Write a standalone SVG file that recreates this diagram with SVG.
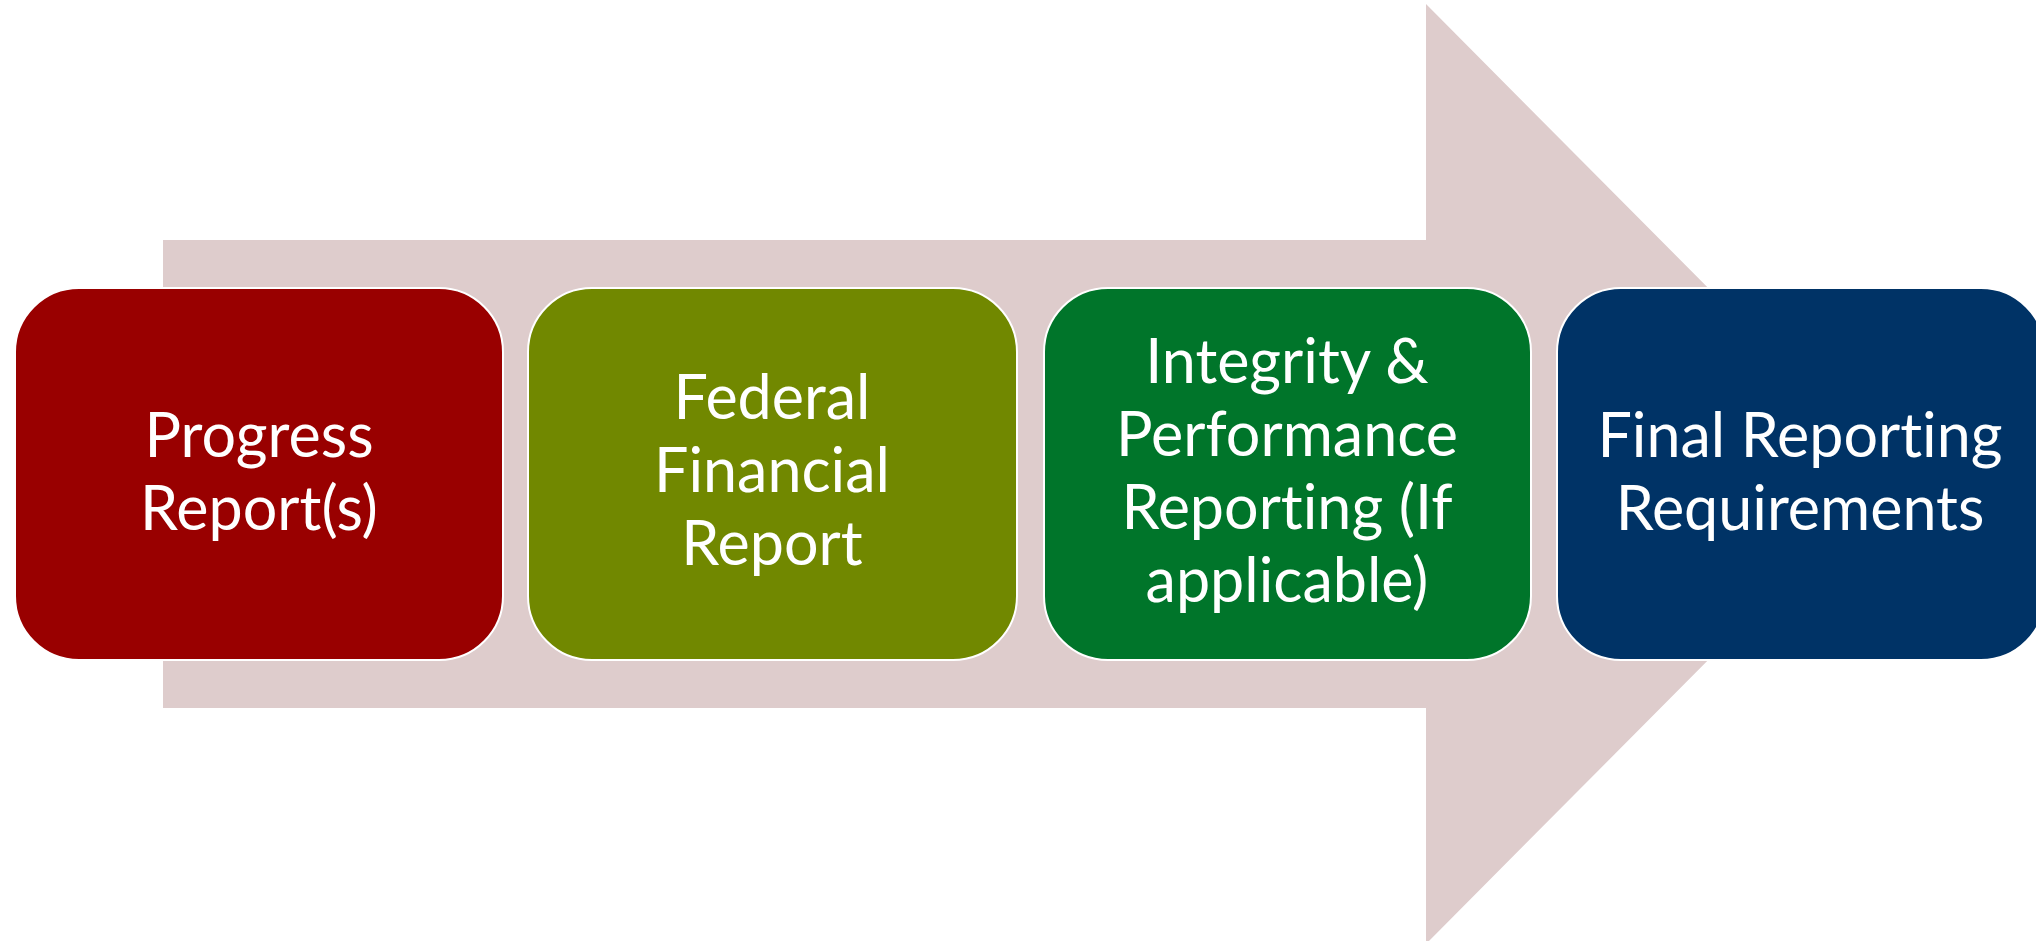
<svg xmlns="http://www.w3.org/2000/svg" width="2036" height="941" viewBox="0 0 2036 941">
<style>
.box{stroke:#ffffff;stroke-width:2}
.t{font-family:Lato,"Open Sans","Liberation Sans",sans-serif;font-size:61px;fill:#ffffff;text-anchor:middle;font-variant-ligatures:none;font-feature-settings:"liga" 0}
</style>
<rect width="2036" height="941" fill="#ffffff"/>
<g id="connectors">
<polygon id="arrow" points="163,240 1426,240 1426,4 1893,474 1426,944 1426,708 163,708" fill="#DECCCC"/>
</g>
<g id="node1">
<rect class="box" x="15" y="288" width="488" height="372" rx="64" fill="#990000"/>
<text class="t" x="259" y="457">Progress</text>
<text class="t" x="259" y="530">Report(s)</text>
</g>
<g id="node2">
<rect class="box" x="528" y="288" width="489" height="372" rx="64" fill="#718800"/>
<text class="t" x="772" y="419">Federal</text>
<text class="t" x="772" y="492">Financial</text>
<text class="t" x="772" y="565">Report</text>
</g>
<g id="node3">
<rect class="box" x="1044" y="288" width="487" height="372" rx="64" fill="#00752A"/>
<text class="t" x="1287" y="383">Integrity &amp;</text>
<text class="t" x="1287" y="456">Performance</text>
<text class="t" x="1287" y="529">Reporting (If</text>
<text class="t" x="1287" y="602">applicable)</text>
</g>
<g id="node4">
<rect class="box" x="1557" y="288" width="488" height="372" rx="64" fill="#003366"/>
<text class="t" x="1800" y="457">Final Reporting</text>
<text class="t" x="1800" y="530">Requirements</text>
</g>
</svg>
